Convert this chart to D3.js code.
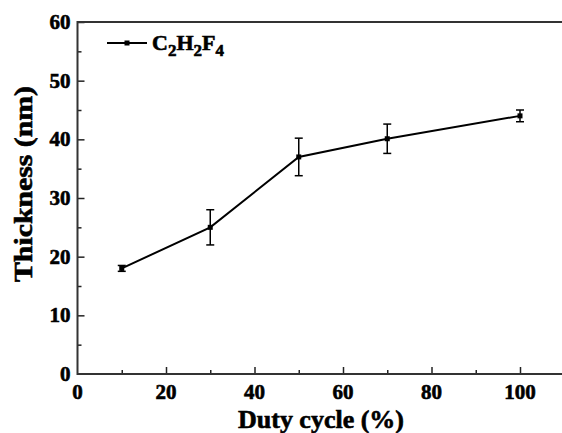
<!DOCTYPE html>
<html>
<head>
<meta charset="utf-8">
<script src="https://cdn.jsdelivr.net/npm/d3@7"></script>
<style>
    body { margin: 0; background: #fff; }
    svg { display: block; }
    svg text { font-family: "Liberation Serif", "Times New Roman", serif; font-weight: bold; fill: #000; stroke: #000; stroke-width: 0.6px; }
</style>
</head>
<body>
<div id="chart"></div>
<script>
// data
var dutyCycle = [10, 30, 50, 70, 100];
var thickness = [18, 25, 37, 40.1, 44];
var errors = [0.5, 3, 3.2, 2.5, 1];
var xTicks = [0, 20, 40, 60, 80, 100];
var yTicks = [0, 10, 20, 30, 40, 50, 60];

(function() {
    var W = 562, H = 433;
    var left = 77.5, right = 564, top = 22, bottom = 374;

    var svg = d3.select("#chart").append("svg")
        .attr("width", W)
        .attr("height", H);

    var x = d3.scaleLinear().domain([0, 110]).range([left, left + (520 - left) * 1.1]);
    var y = d3.scaleLinear().domain([0, 60]).range([bottom, top]);

    // x axis ticks (inward)
    svg.append("g")
        .attr("transform", "translate(0," + bottom + ")")
        .call(d3.axisTop(x).tickValues(d3.range(10, 110, 20)).tickSize(4).tickFormat(""));
    svg.append("g")
        .attr("transform", "translate(0," + bottom + ")")
        .call(d3.axisTop(x).tickValues(xTicks.slice(1)).tickSize(7).tickFormat(""));

    // y axis ticks (inward)
    svg.append("g")
        .attr("transform", "translate(" + left + ",0)")
        .call(d3.axisRight(y).tickValues(d3.range(5, 60, 10)).tickSize(4).tickFormat(""));
    svg.append("g")
        .attr("transform", "translate(" + left + ",0)")
        .call(d3.axisRight(y).tickValues(yTicks.slice(1)).tickSize(7).tickFormat(""));
    svg.selectAll(".domain").remove();
    svg.selectAll(".tick line").attr("stroke", "#222").attr("stroke-width", 1.5);

    svg.append("g")
        .selectAll("text")
        .data(xTicks)
        .enter().append("text")
            .attr("x", d => x(d))
            .attr("y", bottom + 25)
            .attr("text-anchor", "middle")
            .attr("font-size", "21px")
            .text(d => d);

    svg.append("g")
        .selectAll("text")
        .data(yTicks)
        .enter().append("text")
            .attr("x", left - 7)
            .attr("y", d => y(d) + 7)
            .attr("text-anchor", "end")
            .attr("font-size", "21px")
            .text(d => d);

    // frame
    svg.append("path")
        .attr("d", "M" + right + "," + top + "H" + left + "V" + bottom + "H" + right)
        .attr("fill", "none")
        .attr("stroke", "#333")
        .attr("stroke-width", 2);

    // axis titles
    svg.append("text")
        .attr("x", 321)
        .attr("y", 428)
        .attr("text-anchor", "middle")
        .attr("font-size", "25px")
        .attr("textLength", 166)
        .attr("lengthAdjust", "spacingAndGlyphs")
        .text("Duty cycle (%)");

    svg.append("text")
        .attr("transform", "translate(32,184) rotate(-90)")
        .attr("text-anchor", "middle")
        .attr("font-size", "26px")
        .attr("textLength", 196)
        .attr("lengthAdjust", "spacingAndGlyphs")
        .text("Thickness (nm)");

    // series
    var data = dutyCycle.map((d, i) => ({ x: d, y: thickness[i], e: errors[i] }));

    var line = d3.line().x(d => x(d.x)).y(d => y(d.y));
    svg.append("path")
        .datum(data)
        .attr("d", line)
        .attr("fill", "none")
        .attr("stroke", "#000")
        .attr("stroke-width", 2);

    var bars = svg.append("g").selectAll("g")
        .data(data)
        .enter().append("g");

    bars.append("line")
        .attr("x1", d => x(d.x)).attr("x2", d => x(d.x))
        .attr("y1", d => y(d.y - d.e)).attr("y2", d => y(d.y + d.e))
        .attr("stroke", "#000").attr("stroke-width", 1.5);
    bars.append("line")
        .attr("x1", d => x(d.x) - 4).attr("x2", d => x(d.x) + 4)
        .attr("y1", d => y(d.y - d.e)).attr("y2", d => y(d.y - d.e))
        .attr("stroke", "#000").attr("stroke-width", 1.5);
    bars.append("line")
        .attr("x1", d => x(d.x) - 4).attr("x2", d => x(d.x) + 4)
        .attr("y1", d => y(d.y + d.e)).attr("y2", d => y(d.y + d.e))
        .attr("stroke", "#000").attr("stroke-width", 1.5);
    bars.append("rect")
        .attr("x", d => x(d.x) - 2.5)
        .attr("y", d => y(d.y) - 2.5)
        .attr("width", 5)
        .attr("height", 5)
        .attr("fill", "#000");

    // legend
    var lg = svg.append("g").attr("transform", "translate(107,43)");
    lg.append("line")
        .attr("x1", 0).attr("x2", 40)
        .attr("stroke", "#000").attr("stroke-width", 2);
    lg.append("rect")
        .attr("x", 17.5).attr("y", -2.5)
        .attr("width", 5).attr("height", 5)
        .attr("fill", "#000");
    var lt = lg.append("text")
        .attr("x", 45)
        .attr("y", 7)
        .attr("font-size", "22px");
    lt.append("tspan").text("C");
    lt.append("tspan").attr("dy", 6).attr("font-size", "17px").text("2");
    lt.append("tspan").attr("dy", -6).text("H");
    lt.append("tspan").attr("dy", 6).attr("font-size", "17px").text("2");
    lt.append("tspan").attr("dy", -6).text("F");
    lt.append("tspan").attr("dy", 6).attr("font-size", "17px").text("4");
}());
</script>
</body>
</html>
